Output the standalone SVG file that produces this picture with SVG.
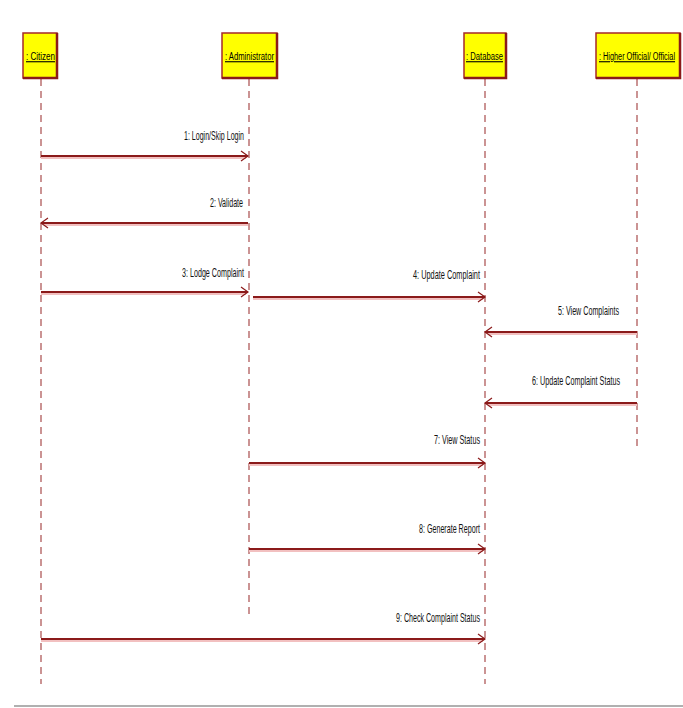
<svg xmlns="http://www.w3.org/2000/svg" width="683" height="708" viewBox="0 0 683 708">
<style>
.box{fill:#ffff00;stroke:#a52a2a;stroke-width:1.5}
.shadow{fill:none;stroke:#8b1a1a;stroke-width:2.5}
.nl{font-family:"Liberation Sans",Arial,sans-serif;font-size:11px;fill:#000;text-decoration:underline}
.life{stroke:#b05a5a;stroke-width:1.3;stroke-dasharray:7,5;fill:none}
.halo{stroke:#f2c0c0;stroke-width:4;fill:none}
.msg{stroke:#8b1a1a;stroke-width:2;fill:none}
.ml{font-family:"Liberation Sans",Arial,sans-serif;font-size:13px;fill:#111;text-anchor:end}
</style>
<defs>
<marker id="ah" markerWidth="10" markerHeight="12" refX="8" refY="6" orient="auto" markerUnits="userSpaceOnUse">
<path d="M1,1 L8,6 L1,11" fill="none" stroke="#8b1a1a" stroke-width="1.2"/>
</marker>
</defs>
<rect x="0" y="0" width="683" height="708" fill="#ffffff"/>
<g id="lifelines">
<line class="life" x1="41" y1="79" x2="41" y2="684"/>
<line class="life" x1="249" y1="79" x2="249" y2="618"/>
<line class="life" x1="485" y1="79" x2="485" y2="684"/>
<line class="life" x1="637" y1="79" x2="637" y2="448"/>
</g>
<g id="citizen">
<rect class="box" x="23" y="33" width="34" height="45"/>
<path class="shadow" d="M23,78 H57 V33"/>
<text class="nl" transform="translate(26,60) scale(0.65,1)" textLength="44.6" lengthAdjust="spacingAndGlyphs">: Citizen</text>
</g>
<g id="administrator">
<rect class="box" x="222" y="33" width="55" height="45"/>
<path class="shadow" d="M222,78 H277 V33"/>
<text class="nl" transform="translate(225,60) scale(0.65,1)" textLength="75.4" lengthAdjust="spacingAndGlyphs">: Administrator</text>
</g>
<g id="database">
<rect class="box" x="464" y="33" width="42" height="45"/>
<path class="shadow" d="M464,78 H506 V33"/>
<text class="nl" transform="translate(466,60) scale(0.65,1)" textLength="56.9" lengthAdjust="spacingAndGlyphs">: Database</text>
</g>
<g id="higher-official">
<rect class="box" x="596" y="33" width="84" height="45"/>
<path class="shadow" d="M596,78 H680 V33"/>
<text class="nl" transform="translate(599,60) scale(0.65,1)" textLength="117" lengthAdjust="spacingAndGlyphs">: Higher Official/ Official</text>
</g>
<g id="connectors">
<line class="halo" x1="41" y1="157" x2="246" y2="157"/>
<line class="msg" x1="41" y1="156" x2="248" y2="156" marker-end="url(#ah)"/>
<line class="halo" x1="44" y1="224" x2="248" y2="224"/>
<line class="msg" x1="248" y1="223" x2="41" y2="223" marker-end="url(#ah)"/>
<line class="halo" x1="41" y1="293" x2="246" y2="293"/>
<line class="msg" x1="41" y1="292" x2="248" y2="292" marker-end="url(#ah)"/>
<line class="halo" x1="253" y1="298" x2="483" y2="298"/>
<line class="msg" x1="253" y1="297" x2="485" y2="297" marker-end="url(#ah)"/>
<line class="halo" x1="488" y1="333" x2="637" y2="333"/>
<line class="msg" x1="637" y1="332" x2="485" y2="332" marker-end="url(#ah)"/>
<line class="halo" x1="488" y1="404" x2="637" y2="404"/>
<line class="msg" x1="637" y1="403" x2="485" y2="403" marker-end="url(#ah)"/>
<line class="halo" x1="249" y1="464" x2="483" y2="464"/>
<line class="msg" x1="249" y1="463" x2="485" y2="463" marker-end="url(#ah)"/>
<line class="halo" x1="249" y1="550" x2="483" y2="550"/>
<line class="msg" x1="249" y1="549" x2="485" y2="549" marker-end="url(#ah)"/>
<line class="halo" x1="41" y1="640" x2="483" y2="640"/>
<line class="msg" x1="41" y1="639" x2="485" y2="639" marker-end="url(#ah)"/>
</g>
<g id="labels">
<text class="ml" transform="translate(244,140) scale(0.6,1)" textLength="100" lengthAdjust="spacingAndGlyphs">1: Login/Skip Login</text>
<text class="ml" transform="translate(243,207) scale(0.6,1)" textLength="55" lengthAdjust="spacingAndGlyphs">2: Validate</text>
<text class="ml" transform="translate(244,277) scale(0.6,1)" textLength="103.3" lengthAdjust="spacingAndGlyphs">3: Lodge Complaint</text>
<text class="ml" transform="translate(480,279) scale(0.6,1)" textLength="111.7" lengthAdjust="spacingAndGlyphs">4: Update Complaint</text>
<text class="ml" transform="translate(619,315) scale(0.6,1)" textLength="101.7" lengthAdjust="spacingAndGlyphs">5: View Complaints</text>
<text class="ml" transform="translate(620,385) scale(0.6,1)" textLength="146.7" lengthAdjust="spacingAndGlyphs">6: Update Complaint Status</text>
<text class="ml" transform="translate(480,444) scale(0.6,1)" textLength="76.7" lengthAdjust="spacingAndGlyphs">7: View Status</text>
<text class="ml" transform="translate(480,533) scale(0.6,1)" textLength="101.7" lengthAdjust="spacingAndGlyphs">8: Generate Report</text>
<text class="ml" transform="translate(480,622) scale(0.6,1)" textLength="140" lengthAdjust="spacingAndGlyphs">9: Check Complaint Status</text>
</g>
<line x1="14" y1="706" x2="683" y2="706" stroke="#b0b0b0" stroke-width="2"/>
</svg>
